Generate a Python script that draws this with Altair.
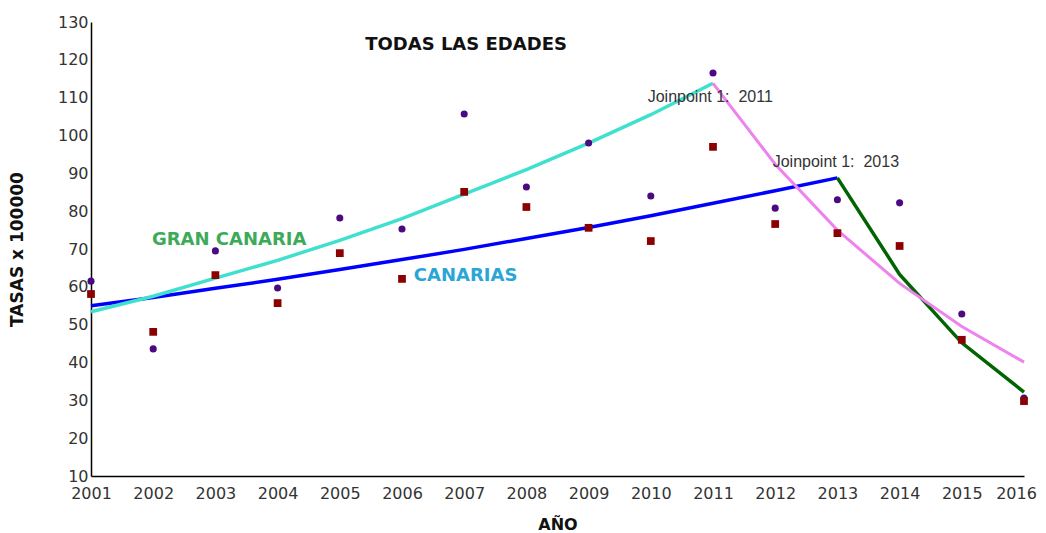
import altair as alt
import pandas as pd

# ---- data ----
years = list(range(2001, 2017))
gc_rates = [61.5, 43.6, 69.5, 59.7, 78.2, 75.3, 105.7, 86.4, 98.0, 84.0, 116.5, 80.8, 83.0, 82.2, 52.8, 30.6]
can_rates = [58.1, 48.1, 63.1, 55.7, 68.9, 62.1, 85.1, 81.1, 75.6, 72.1, 97.0, 76.6, 74.2, 70.8, 46.0, 29.8]

gc_fit1_years = list(range(2001, 2012))
gc_fit1 = [53.4, 57.5, 62.3, 67.0, 72.3, 78.0, 84.5, 91.0, 98.0, 105.5, 113.8]
gc_fit2_years = list(range(2011, 2017))
gc_fit2 = [113.8, 92.4, 75.0, 60.9, 49.5, 40.1]
can_fit1_years = list(range(2001, 2014))
can_fit1 = [55.0, 57.2, 59.6, 62.0, 64.6, 67.2, 69.9, 72.8, 75.7, 78.8, 82.1, 85.4, 88.8]
can_fit2_years = list(range(2013, 2017))
can_fit2 = [88.8, 63.3, 45.2, 32.2]

y_ticks = list(range(10, 131, 10))

xs = alt.Scale(domain=[2001, 2016], nice=False, zero=False)
ys = alt.Scale(domain=[10, 130], nice=False, zero=False)

X = alt.X("year:Q", scale=xs, title="AÑO",
          axis=alt.Axis(values=years, format="d", labelPadding=9, titlePadding=15,
                        labelOverlap=False, labelFlush=False, labelBound=False,
                        labelOffset={"expr": "datum.value == 2016 ? -8 : 0"},
                        titleFontSize=16))
Y = alt.Y("rate:Q", scale=ys, title="TASAS x 100000",
          axis=alt.Axis(values=y_ticks, labelPadding=3, titlePadding=31,
                        labelOverlap=False, labelFlush=False, labelBound=False,
                        titleFontSize=17))


def line_df(yrs, vals):
    return pd.DataFrame({"year": yrs, "rate": vals})


def line(yrs, vals, color, width):
    return alt.Chart(line_df(yrs, vals)).mark_line(color=color, strokeWidth=width).encode(x=X, y=Y)


gc_pts = alt.Chart(pd.DataFrame({"year": years, "rate": gc_rates})).mark_circle(
    color="#4b0a82", opacity=1, size=50).encode(x=X, y=Y)
can_pts = alt.Chart(pd.DataFrame({"year": years, "rate": can_rates})).mark_square(
    color="#8b0000", opacity=1, size=60).encode(x=X, y=Y)

l1 = line(gc_fit1_years, gc_fit1, "#40e0d0", 3.5)
l2 = line(gc_fit2_years, gc_fit2, "#ee82ee", 3)
l3 = line(can_fit1_years, can_fit1, "#0000ff", 3.5)
l4 = line(can_fit2_years, can_fit2, "#006400", 3.5)


def label(text, year, rate, color, size, weight, font, align="left"):
    return alt.Chart(pd.DataFrame({"year": [year], "rate": [rate], "t": [text]})).mark_text(
        color=color, fontSize=size, fontWeight=weight, font=font, align=align, baseline="middle"
    ).encode(x=X, y=Y, text="t:N")


t1 = label("TODAS LAS EDADES", 2007.03, 123.9, "#111111", 18, "bold", "DejaVu Sans", "center")
t2 = label("GRAN CANARIA", 2001.98, 72.4, "#3daa5a", 18, "bold", "DejaVu Sans")
t3 = label("CANARIAS", 2006.19, 62.9, "#2aa6d6", 18, "bold", "DejaVu Sans")
t4 = label("Joinpoint 1:\u00a0\u00a02011", 2009.95, 110.2, "#333333", 16, "normal", "Liberation Sans")
t5 = label("Joinpoint 1:\u00a0\u00a02013", 2011.96, 93.0, "#333333", 16, "normal", "Liberation Sans")

chart = alt.layer(l3, l4, l1, l2, gc_pts, can_pts, t1, t2, t3, t4, t5).properties(
    width=933, height=454,
    autosize=alt.AutoSizeParams(type="none"),
    padding={"left": 83, "top": 14, "right": 14, "bottom": 56},
).configure_view(stroke=None).configure_axis(
    grid=False, ticks=False, domainColor="#000000", domainWidth=1.5,
    labelOverlap=False,
    labelFont="DejaVu Sans", labelFontSize=16, labelColor="#333333",
    titleFont="DejaVu Sans", titleFontWeight="bold", titleColor="#111111",
)

chart.save("out.html", embed_options={"renderer": "svg", "actions": False})
